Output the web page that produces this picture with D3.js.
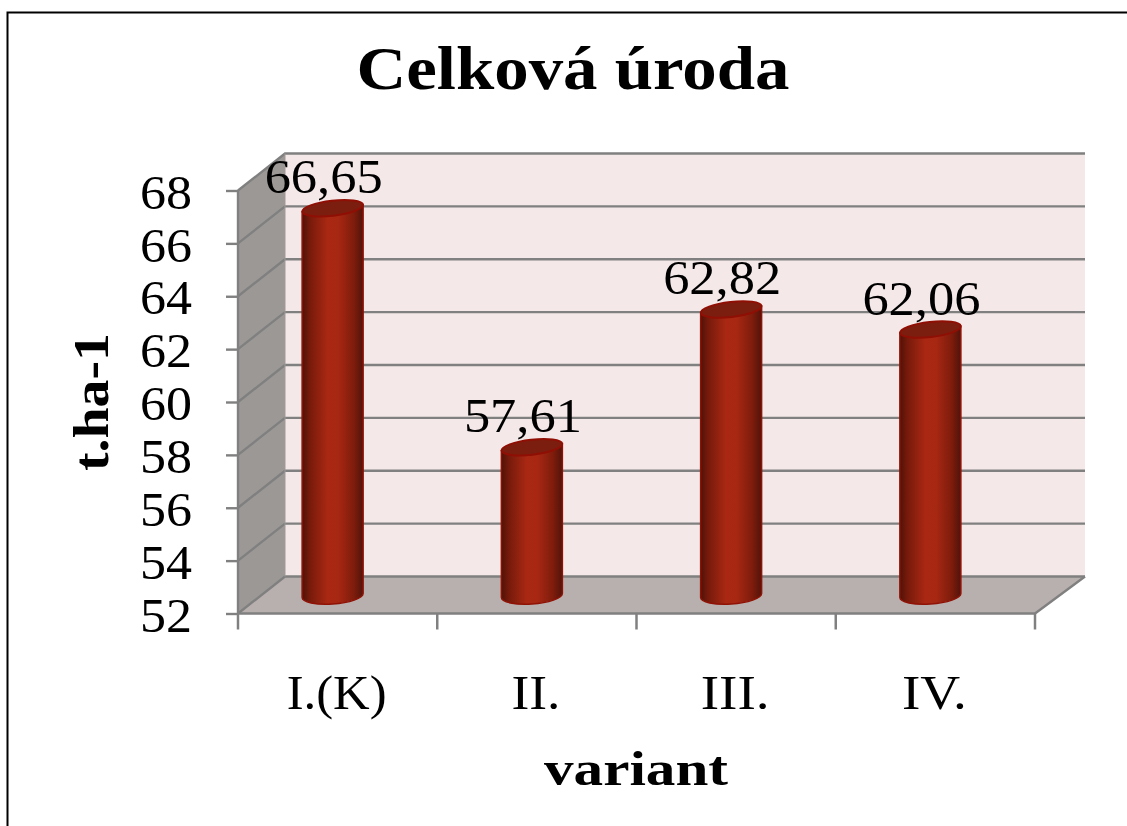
<!DOCTYPE html>
<html>
<head>
<meta charset="utf-8">
<script src="https://cdn.jsdelivr.net/npm/d3@7"></script>
<style>
  html, body { margin: 0; padding: 0; background: #fff; }
  svg { display: block; }
  text { font-family: "Liberation Serif", serif; fill: #000; }
</style>
</head>
<body>
<svg id="chart" width="1127" height="826"></svg>
<script>
const categories = ["I.(K)", "II.", "III.", "IV."];
const values = [66.65, 57.61, 62.82, 62.06];
const y_ticks = [52, 54, 56, 58, 60, 62, 64, 66, 68];
const category_widths = [100, 49, 69, 65];
const title = "Celková úroda";
const x_title = "variant";
const y_title = "t.ha-1";

// front plane of the 3d box, back plane is shifted by depth
const front = {left: 238, right: 1035, top: 190.5, bottom: 613.5};
const depth = {x: 47, y: -37};
const bar_shift = {x: -5, y: -18};
const bar_rx = 30.5, bar_ry = 7.5;
const top_tilt = 3.5, bottom_tilt = 2;

const svg = d3.select("#chart");
const comma = d3.formatLocale({decimal: ",", thousands: " ", grouping: [3], currency: ["", ""]}).format(".2f");

const x = d3.scaleBand().domain(categories).range([front.left, front.right]);
const y = d3.scaleLinear().domain([52, 68]).range([front.bottom, front.top]);

// bar shading
const grad = svg.append("defs").append("linearGradient").attr("id", "bar_fill");
[[0, "#4f1207"], [0.12, "#761a0b"], [0.42, "#aa2813"], [0.6, "#a62712"], [0.85, "#7e1c0c"], [1, "#51130a"]]
  .forEach(s => grad.append("stop").attr("offset", s[0]).attr("stop-color", s[1]));

// frame
svg.append("path")
  .attr("d", "M7.5,826V12.5H1127")
  .attr("fill", "none").attr("stroke", "#000").attr("stroke-width", 2);

// walls
const bx = front.left + depth.x, bx2 = front.right + depth.x + 3;
const by = v => y(v) + depth.y;
svg.append("rect")
  .attr("x", bx).attr("y", by(68)).attr("width", bx2 - bx).attr("height", by(52) - by(68))
  .attr("fill", "#f4e8e8");
svg.append("path")
  .attr("d", `M${front.left},${y(52)}L${front.left},${y(68)}L${bx},${by(68)}L${bx},${by(52)}Z`)
  .attr("fill", "#9c9896");
svg.append("path")
  .attr("d", `M${front.left},${y(52)}L${bx},${by(52)}L${bx2},${by(52)}L${front.right},${y(52)}Z`)
  .attr("fill", "#b8b0ae");

// gridlines, back wall and side wall
const grid = svg.append("g").attr("fill", "none").attr("stroke", "#808080").attr("stroke-width", 2.4);
grid.selectAll("path.g").data(y_ticks).enter().append("path")
  .attr("class", "g")
  .attr("d", d => `M${front.left},${y(d)}L${bx},${by(d)}L${bx2},${by(d)}`);
grid.append("path").attr("d", `M${front.left},${y(52)}V${y(68)}`);
grid.append("path").attr("d", `M${bx},${by(52)}V${by(68)}`).attr("stroke-width", 1).attr("stroke", "#a09a98");
grid.append("path").attr("d", `M${front.left},${y(52)}H${front.right}L${bx2},${by(52)}`);

// axes
const y_axis = d3.axisLeft(y).tickValues(y_ticks).tickSize(12).tickPadding(34).tickSizeOuter(0);
const x_axis = d3.axisBottom(x).tickValues([]).tickSize(0);
const y_g = svg.append("g").attr("transform", `translate(${front.left},0)`).call(y_axis);
y_g.select(".domain").remove();
y_g.selectAll("line").attr("stroke", "#808080").attr("stroke-width", 2.4);
y_g.selectAll("text")
  .attr("font-size", 49).attr("dy", "0.36em")
  .attr("textLength", 52).attr("lengthAdjust", "spacingAndGlyphs")
  .style("font-family", '"Liberation Serif", serif');

const x_g = svg.append("g").attr("transform", `translate(0,${front.bottom})`).call(x_axis);
x_g.select(".domain").remove();
x_g.selectAll("line.t").data(d3.range(categories.length + 1)).enter().append("line")
  .attr("class", "t")
  .attr("x1", i => front.left + i * x.step()).attr("x2", i => front.left + i * x.step())
  .attr("y1", 0).attr("y2", 16)
  .attr("stroke", "#808080").attr("stroke-width", 2.5);
x_g.selectAll("text.c").data(categories).enter().append("text")
  .attr("class", "c")
  .attr("x", d => x(d) + x.bandwidth() / 2 - 1)
  .attr("y", 95)
  .attr("text-anchor", "middle")
  .attr("font-size", 49)
  .attr("textLength", (d, i) => category_widths[i])
  .attr("lengthAdjust", "spacingAndGlyphs")
  .style("font-family", '"Liberation Serif", serif')
  .text(d => d);

// cylinders
const bars = svg.append("g").selectAll("g").data(categories).enter().append("g")
  .attr("transform", d => `translate(${x(d) + x.bandwidth() / 2 + bar_shift.x},${bar_shift.y})`);
bars.append("path")
  .attr("d", (d, i) => {
    const top = y(values[i]), bot = y(52);
    return `M${-bar_rx},${top + top_tilt}L${-bar_rx},${bot + bottom_tilt}`
      + `A${bar_rx},${bar_ry + 1} -4 0 0 ${bar_rx},${bot - bottom_tilt}L${bar_rx},${top - top_tilt}Z`;
  })
  .attr("fill", "url(#bar_fill)")
  .attr("stroke", "#8f1206").attr("stroke-width", 1.5);
bars.append("ellipse")
  .attr("transform", (d, i) => `translate(0,${y(values[i])}) rotate(-6.5)`)
  .attr("rx", bar_rx).attr("ry", bar_ry)
  .attr("fill", "#7c1e0f").attr("stroke", "#8f0f05").attr("stroke-width", 2);

// value labels
svg.append("g").selectAll("text").data(values).enter().append("text")
  .attr("x", (d, i) => x(categories[i]) + x.bandwidth() / 2 + bar_shift.x - 9)
  .attr("y", d => y(d) + bar_shift.y - 15)
  .attr("text-anchor", "middle")
  .attr("font-size", 49)
  .attr("textLength", 118)
  .attr("lengthAdjust", "spacingAndGlyphs")
  .text(d => comma(d));

// titles
svg.append("text").attr("x", 573).attr("y", 89).attr("text-anchor", "middle")
  .attr("font-size", 62).attr("font-weight", "bold")
  .attr("textLength", 433).attr("lengthAdjust", "spacingAndGlyphs")
  .text(title);
svg.append("text").attr("x", 636).attr("y", 785).attr("text-anchor", "middle")
  .attr("font-size", 48).attr("font-weight", "bold")
  .attr("textLength", 184).attr("lengthAdjust", "spacingAndGlyphs")
  .text(x_title);
svg.append("text").attr("transform", "translate(108,402) rotate(-90)").attr("text-anchor", "middle")
  .attr("font-size", 50).attr("font-weight", "bold")
  .attr("textLength", 138).attr("lengthAdjust", "spacingAndGlyphs")
  .text(y_title);
</script>
</body>
</html>
